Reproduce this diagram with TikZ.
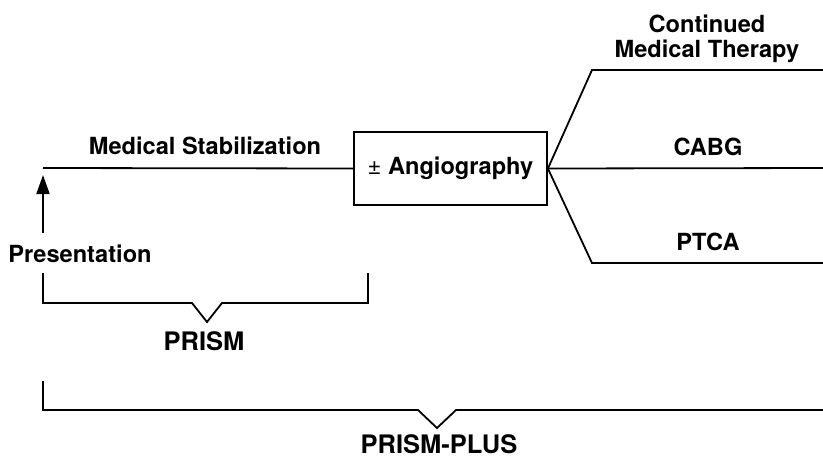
\documentclass[tikz,border=0pt]{standalone}
\usepackage{fontspec}
\setmainfont{TeX Gyre Heros}
\usetikzlibrary{arrows.meta}
\begin{document}
\begin{tikzpicture}[x=1pt,y=-1pt,
  ln/.style={line width=1.8pt, line join=miter},
  lbl/.style={font=\fontsize{23.6}{27}\selectfont\bfseries, inner sep=0pt, anchor=base},
  big/.style={font=\fontsize{25.5}{29}\selectfont\bfseries, inner sep=0pt, anchor=base},
  boxst/.style={draw, line width=1.8pt, minimum width=193pt, minimum height=73pt, inner sep=0pt,
    font=\fontsize{23.6}{27}\selectfont\bfseries}]
\useasboundingbox (0,0) rectangle (823,459);
% nodes
\node[boxst] (ang) at (450.5,168.5) {{\mdseries ±} Angiography};
\coordinate (start) at (43,168);
\coordinate (up) at (592,70);
\coordinate (upend) at (823,70);
\coordinate (midend) at (823,168);
\coordinate (lo) at (592,263);
\coordinate (loend) at (823,263);
\coordinate (arrfrom) at (43,233);
\coordinate (arrto) at (43,175);
% labels
\node[lbl] (ms) at (205,154) {Medical Stabilization};
\node[lbl] (pres) at (80,262) {Presentation};
\node[lbl] (cont1) at (707,32) {Continued};
\node[lbl] (cont2) at (707,57) {Medical Therapy};
\node[lbl] (cabg) at (708,155) {CABG};
\node[lbl] (ptca) at (708,250) {PTCA};
\node[big] (prism) at (204,350) {PRISM};
\node[big] (plus) at (439,453) {PRISM-PLUS};
% lines
\draw[ln] (start) -- (ang.west);
\draw[ln] (ang.east) -- (up) -- (upend);
\draw[ln] (ang.east) -- (midend);
\draw[ln] (ang.east) -- (lo) -- (loend);
\draw[ln, -{Triangle[length=19pt,width=13pt]}] (arrfrom) -- (arrto);
% brackets
\draw[ln] (43,273) -- (43,303) -- (192,303) -- (207,322) -- (222,303) -- (368,303) -- (368,273);
\draw[ln] (43,381) -- (43,410) -- (418,410) -- (437,428) -- (456,410) -- (823,410);
\end{tikzpicture}
\end{document}
